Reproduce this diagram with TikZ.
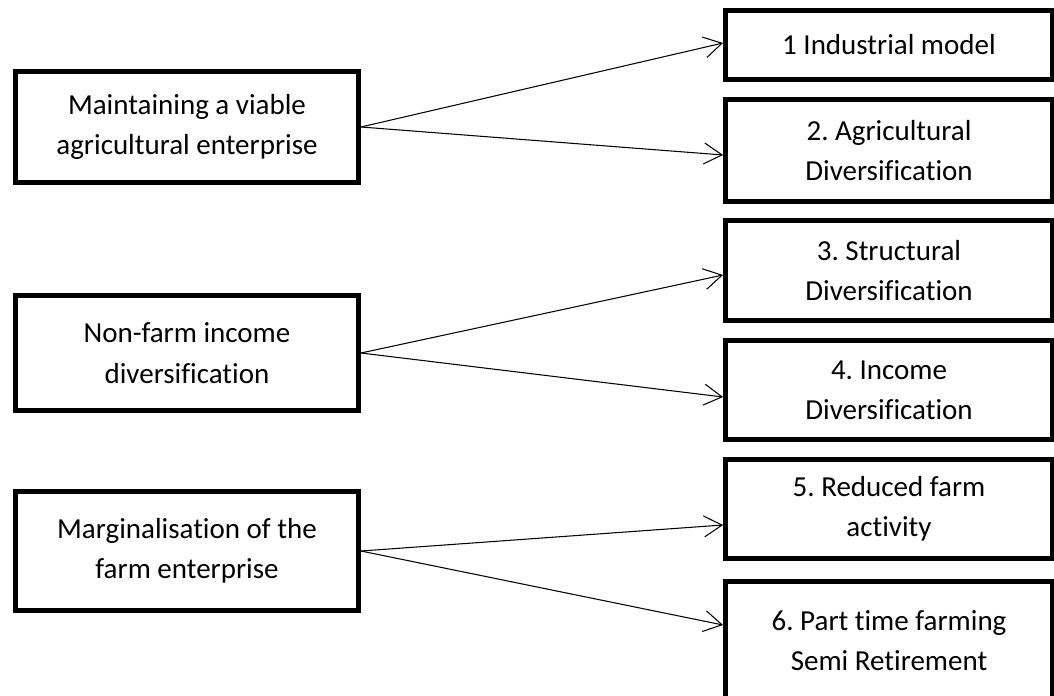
\documentclass[tikz,border=0pt]{standalone}
\usepackage{fontspec}
\setmainfont{Carlito}[Ligatures=NoCommon]
\usetikzlibrary{arrows.meta}
\tikzset{
	box/.style={draw, line width=2.8pt, align=center, inner sep=0pt, font=\fontsize{16.5}{23}\selectfont},
	leftbox/.style={box, minimum width=6.86cm},
	rightbox/.style={box, minimum width=6.54cm},
	arr/.style={line width=0.6pt, -{Straight Barb[length=0.36cm, width=0.42cm]}}
}
\frenchspacing

\begin{document}
\begin{tikzpicture}
			%%%%% START %%%%%
			
			\path[use as bounding box, clip] (0, 0) rectangle (21.08, 13.9);
			
			\node[leftbox, minimum height=2.22cm] (keep) at (3.74, 11.36) {Maintaining a viable\\agricultural enterprise};
			\node[leftbox, minimum height=2.3cm] (nonfarm) at (3.74, 6.84) {Non-farm income\\diversification};
			\node[leftbox, minimum height=2.38cm] (marg) at (3.74, 2.88) {Marginalisation of the\\farm enterprise};
			
			\node[rightbox, minimum height=1.38cm] (r1) at (17.78, 13.0) {1 Industrial model};
			\node[rightbox, minimum height=2.04cm] (r2) at (17.78, 10.89) {2. Agricultural\\Diversification};
			\node[rightbox, minimum height=2.0cm] (r3) at (17.78, 8.49) {3. Structural\\Diversification};
			\node[rightbox, minimum height=1.98cm] (r4) at (17.78, 6.1) {4. Income\\Diversification};
			\node[rightbox, minimum height=1.98cm] (r5) at (17.78, 3.72) {5. Reduced farm\\activity};
			\node[rightbox, minimum height=2.37cm] (r6) at (17.78, 1.085) {6. Part time farming\\Semi Retirement};
			
			\draw[arr] (keep.east) -- ([yshift=0.04cm]r1.west);
			\draw[arr] (keep.east) -- ([yshift=-0.09cm]r2.west);
			\draw[arr] (nonfarm.east) -- ([yshift=-0.09cm]r3.west);
			\draw[arr] (nonfarm.east) -- ([yshift=-0.14cm]r4.west);
			\draw[arr] (marg.east) -- ([yshift=-0.32cm]r5.west);
			\draw[arr] (marg.east) -- ([yshift=0.315cm]r6.west);
			
			%%%%% END %%%%%
\end{tikzpicture}
\end{document}
